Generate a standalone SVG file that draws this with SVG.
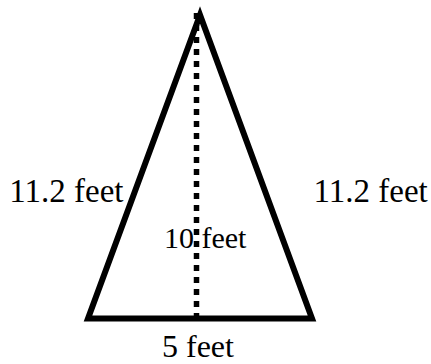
<svg xmlns="http://www.w3.org/2000/svg" width="431" height="364" viewBox="0 0 431 364">
<style>
.lbl{font-family:'Liberation Serif','Times New Roman','DejaVu Serif',serif;font-size:30px;fill:#000}
.side{font-size:33px}
.base{font-size:32px}
.edge{fill:none;stroke:#000;stroke-width:6;stroke-linejoin:miter}
.dot{stroke:#000;stroke-width:5.5;stroke-dasharray:6 6}
</style>
<rect width="431" height="364" fill="#fff"/>
<g id="connectors">
<line class="dot" x1="196.5" y1="13" x2="196.5" y2="318"/>
</g>
<g id="triangle">
<polygon class="edge" points="200,15 88,318.5 312,318.5"/>
</g>
<g id="label-left"><text class="lbl side" x="9.3" y="202">11.2 feet</text></g>
<g id="label-right"><text class="lbl side" x="313.5" y="202">11.2 feet</text></g>
<g id="label-height"><text class="lbl" x="164" y="248">10 feet</text></g>
<g id="label-base"><text class="lbl base" x="162" y="357">5 feet</text></g>
</svg>
